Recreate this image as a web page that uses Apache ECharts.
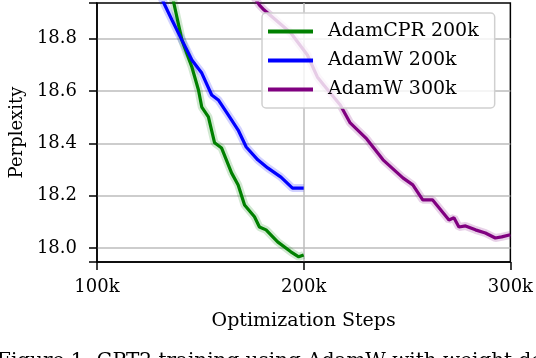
<!DOCTYPE html>
<html>
<head>
<meta charset="utf-8">
<script src="https://cdn.jsdelivr.net/npm/echarts@6/dist/echarts.min.js"></script>
<style>
	html, body { margin: 0; padding: 0; background: #fff; }
	#chart { width: 536px; height: 358px; }
</style>
</head>
<body>
<div id="chart"></div>
<script>
// steps in k, perplexity
var cprSteps = [135.5, 137.2, 141.1, 145.9, 149.1, 150.7, 153.9, 156.9, 160.3, 165.1, 168.3, 171.4, 176.2, 178.6, 181.8, 187.4, 193.8, 197.6, 200];
var cprPpl = [19.0, 18.936, 18.795, 18.692, 18.604, 18.539, 18.501, 18.402, 18.382, 18.287, 18.241, 18.164, 18.119, 18.080, 18.069, 18.023, 17.985, 17.966, 17.973];

var w200Steps = [130.5, 132.4, 136.4, 141.1, 145.9, 150.7, 155.5, 158.7, 163.5, 168.3, 172.2, 177.8, 182.6, 189.0, 194.6, 200];
var w200Ppl = [18.97, 18.936, 18.870, 18.795, 18.719, 18.669, 18.585, 18.566, 18.509, 18.451, 18.386, 18.337, 18.306, 18.271, 18.229, 18.229];

var w300Steps = [176, 178.6, 180.9, 193.8, 201.8, 206.6, 209.7, 217.7, 222.5, 230.5, 238.4, 248.0, 252.8, 257.6, 262.3, 270.3, 272.7, 275.1, 278.3, 283.1, 287.9, 292.7, 295.8, 300];
var w300Ppl = [18.96, 18.929, 18.910, 18.822, 18.738, 18.654, 18.623, 18.547, 18.478, 18.417, 18.337, 18.268, 18.241, 18.184, 18.184, 18.107, 18.115, 18.080, 18.084, 18.069, 18.057, 18.038, 18.042, 18.050];

var yTicks = [18.0, 18.2, 18.4, 18.6, 18.8];

var names = ['AdamCPR 200k', 'AdamW 200k', 'AdamW 300k'];
var colors = ['#008000', '#0000ff', '#800080'];

function pairs(xs, ys) {
	var out = [];
	for (var i = 0; i < xs.length; i++) {
		out.push([xs[i], ys[i]]);
	}
	return out;
}

var myChart = echarts.init(document.getElementById('chart'));
var font = 'DejaVu Serif';
var lines = [pairs(cprSteps, cprPpl), pairs(w200Steps, w200Ppl), pairs(w300Steps, w300Ppl)];

var series = [];
// pale bands first, then the main lines
for (var i = 0; i < 3; i++) {
	series.push({
		name: names[i] + ' band',
		type: 'line',
		data: lines[i],
		showSymbol: false,
		silent: true,
		lineStyle: { color: colors[i], width: 8, opacity: 0.18 },
		z: 1
	});
}
for (var j = 0; j < 3; j++) {
	series.push({
		name: names[j],
		type: 'line',
		data: lines[j],
		showSymbol: false,
		itemStyle: { color: colors[j] },
		lineStyle: { color: colors[j], width: 3.2 },
		z: 2
	});
}

var option = {
	backgroundColor: '#fff',
	animation: false,
	grid: {
		left: 94,
		right: 24,
		top: 3,
		bottom: 96,
		show: true,
		borderColor: '#000',
		borderWidth: 1.5
	},
	legend: {
		data: names,
		orient: 'vertical',
		left: 262,
		top: 13,
		padding: [9, 16, 9, 6],
		itemGap: 10,
		itemWidth: 45,
		itemHeight: 4,
		icon: 'rect',
		backgroundColor: 'rgba(255,255,255,0.8)',
		borderColor: '#d0d0d0',
		borderWidth: 1.5,
		borderRadius: 4,
		textStyle: {
			fontFamily: font,
			fontSize: 19,
			color: '#000',
			padding: [0, 0, 0, 10]
		}
	},
	xAxis: {
		type: 'value',
		min: 100,
		max: 300,
		interval: 100,
		name: 'Optimization Steps',
		nameLocation: 'middle',
		nameGap: 50,
		nameTextStyle: { fontFamily: font, fontSize: 19, color: '#000' },
		axisLine: { lineStyle: { color: '#000', width: 1.5 } },
		axisTick: { show: true, length: 8, lineStyle: { color: '#000', width: 1.5 } },
		axisLabel: {
			fontFamily: font,
			fontSize: 18,
			color: '#000',
			margin: 16,
			formatter: function(v) { return v + 'k'; }
		},
		splitLine: { show: true, showMinLine: false, showMaxLine: false, lineStyle: { color: '#bdbdbd', width: 1.5 } }
	},
	yAxis: {
		type: 'value',
		min: 17.946,
		max: 18.937,
		splitNumber: 5,
		name: 'Perplexity',
		nameLocation: 'middle',
		nameGap: 70,
		nameTextStyle: { fontFamily: font, fontSize: 18, color: '#000' },
		axisLine: { show: true, lineStyle: { color: '#000', width: 1.5 } },
		axisTick: { show: true, length: 8, lineStyle: { color: '#000', width: 1.5 } },
		axisLabel: {
			fontFamily: font,
			fontSize: 18,
			color: '#000',
			margin: 20,
			customValues: yTicks,
			formatter: function(v) { return v.toFixed(1); }
		},
		splitLine: { show: true, showMinLine: false, showMaxLine: false, lineStyle: { color: '#bdbdbd', width: 1.5 } }
	},
	graphic: [{
		type: 'text',
		left: -3,
		top: 352,
		silent: true,
		style: {
			text: 'Figure 1: GPT2 training using AdamW with weight decay',
			font: '20px "DejaVu Serif"',
			fill: '#000'
		}
	}],
	series: series
};
myChart.setOption(option);
</script>
</body>
</html>
